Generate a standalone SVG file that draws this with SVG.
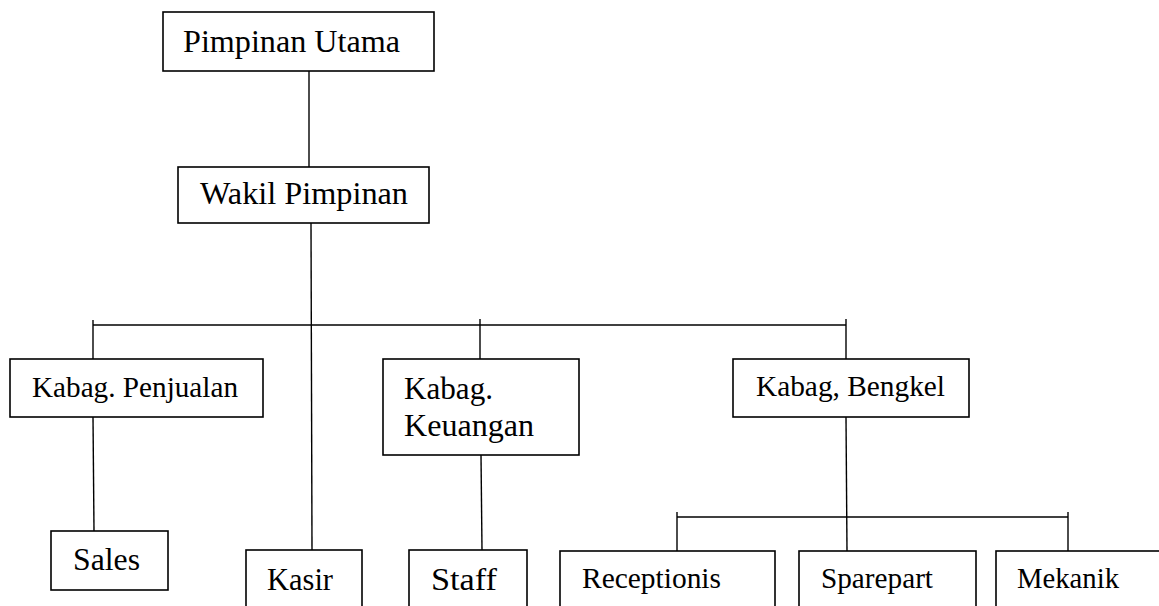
<svg xmlns="http://www.w3.org/2000/svg" width="1159" height="606" viewBox="0 0 1159 606">
<style>
.n{fill:#fff;stroke:#000;stroke-width:1.6}
line{stroke:#000;stroke-width:1.4}
text{font-family:"Liberation Serif","Times New Roman",serif;fill:#000}
.a{font-size:31px}
.b{font-size:29px}
</style>
<rect width="1159" height="606" fill="#fff"/>
<g id="connectors">
<line x1="309" y1="71" x2="309" y2="167"/>
<line x1="311" y1="223" x2="312" y2="550"/>
<line x1="93" y1="325" x2="846" y2="325"/>
<line x1="93" y1="320" x2="93" y2="359"/>
<line x1="480" y1="319" x2="480" y2="359"/>
<line x1="846" y1="319" x2="846" y2="359"/>
<line x1="93" y1="417" x2="94" y2="531"/>
<line x1="481" y1="455" x2="482" y2="550"/>
<line x1="846" y1="417" x2="847" y2="551"/>
<line x1="677" y1="517" x2="1068" y2="517"/>
<line x1="677" y1="512" x2="677" y2="551"/>
<line x1="1068" y1="512" x2="1068" y2="551"/>
</g>
<g id="pimpinan-utama"><rect class="n" x="163" y="12" width="271" height="59"/><text class="a" x="183" y="52" textLength="217" lengthAdjust="spacingAndGlyphs">Pimpinan Utama</text></g>
<g id="wakil-pimpinan"><rect class="n" x="178" y="167" width="251" height="56"/><text class="a" x="200" y="204" textLength="208" lengthAdjust="spacingAndGlyphs">Wakil Pimpinan</text></g>
<g id="kabag-penjualan"><rect class="n" x="10" y="359" width="253" height="58"/><text class="b" x="32" y="397" textLength="206" lengthAdjust="spacingAndGlyphs">Kabag. Penjualan</text></g>
<g id="kabag-keuangan"><rect class="n" x="383" y="359" width="196" height="96"/><text class="a" x="404" y="399" textLength="89" lengthAdjust="spacingAndGlyphs">Kabag.</text><text class="a" x="404" y="436" textLength="130" lengthAdjust="spacingAndGlyphs">Keuangan</text></g>
<g id="kabag-bengkel"><rect class="n" x="733" y="359" width="236" height="58"/><text class="b" x="756" y="396" textLength="189" lengthAdjust="spacingAndGlyphs">Kabag, Bengkel</text></g>
<g id="sales"><rect class="n" x="51" y="531" width="117" height="59"/><text class="a" x="73" y="570" textLength="67" lengthAdjust="spacingAndGlyphs">Sales</text></g>
<g id="kasir"><rect class="n" x="246" y="550" width="116" height="80"/><text class="a" x="267" y="590" textLength="66" lengthAdjust="spacingAndGlyphs">Kasir</text></g>
<g id="staff"><rect class="n" x="409" y="550" width="118" height="80"/><text class="a" x="431" y="590" textLength="66" lengthAdjust="spacingAndGlyphs">Staff</text></g>
<g id="receptionis"><rect class="n" x="560" y="551" width="215" height="80"/><text class="b" x="582" y="588" textLength="139" lengthAdjust="spacingAndGlyphs">Receptionis</text></g>
<g id="sparepart"><rect class="n" x="799" y="551" width="177" height="80"/><text class="b" x="821" y="588" textLength="112" lengthAdjust="spacingAndGlyphs">Sparepart</text></g>
<g id="mekanik"><rect class="n" x="996" y="551" width="180" height="80"/><text class="b" x="1017" y="588" textLength="102" lengthAdjust="spacingAndGlyphs">Mekanik</text></g>
</svg>
